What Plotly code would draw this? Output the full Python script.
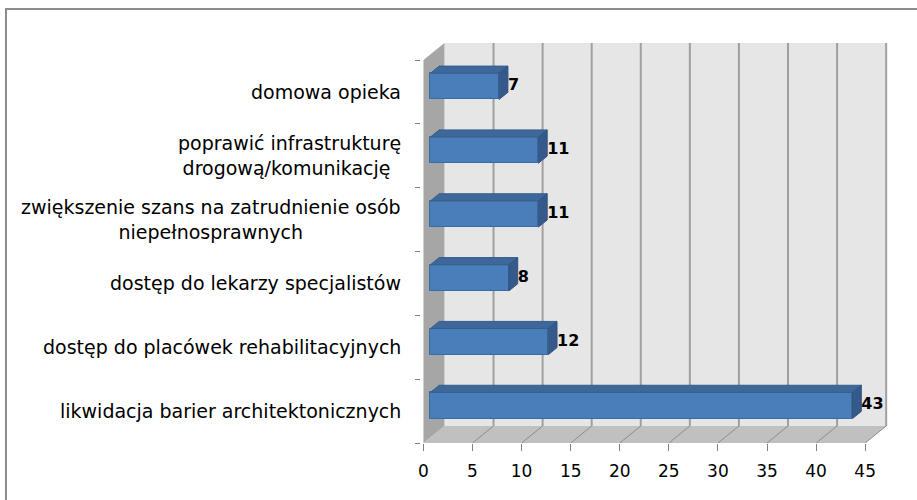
import plotly.graph_objects as go

# ---- data (bottom to top) ----
categories = [
    "likwidacja barier architektonicznych",
    "dostęp do placówek rehabilitacyjnych",
    "dostęp do lekarzy specjalistów",
    "zwiększenie szans na zatrudnienie osób<br>niepełnosprawnych",
    "poprawić infrastrukturę<br>drogową/komunikację ",
    "domowa opieka",
]
values = [43, 12, 8, 11, 11, 7]
x_ticks = [0, 5, 10, 15, 20, 25, 30, 35, 40, 45]

# ---- geometry (pixels -> axis units) ----
W, H = 917, 500
PX_X = 9.816          # px per x unit
PX_Y = 63.83          # px per category
DEPTH_PX_X, DEPTH_PX_Y = 21, 17
DX = DEPTH_PX_X / PX_X
DY = DEPTH_PX_Y / PX_Y
F0, F1 = 0.33, 0.75   # bar front/back depth fractions
BAR_W = 0.41
XMAX = 45
FONT = "DejaVu Sans"

left_px, top_px, bottom_px, right_px = 421, 41, 443, 29
x_lo = -0.25
x_hi = x_lo + (W - right_px - left_px) / PX_X
y_lo = -0.5
y_hi = y_lo + (bottom_px - top_px) / PX_Y
n = len(categories)

fig = go.Figure()
shapes = []

def poly(pts):
    return "M " + " L ".join(f"{x},{y}" for x, y in pts) + " Z"

# back wall
shapes.append(dict(type="path", xref="x", yref="y", layer="below",
                   path=poly([(DX, y_lo + DY), (XMAX + DX, y_lo + DY),
                              (XMAX + DX, n - 0.5 + DY), (DX, n - 0.5 + DY)]),
                   fillcolor="#e6e6e6", line=dict(width=0)))
# floor
shapes.append(dict(type="path", xref="x", yref="y", layer="below",
                   path=poly([(0, y_lo), (XMAX, y_lo), (XMAX + DX, y_lo + DY), (DX, y_lo + DY)]),
                   fillcolor="#c0c0c0", line=dict(width=0)))
# left wall
shapes.append(dict(type="path", xref="x", yref="y", layer="below",
                   path=poly([(0, y_lo), (0, n - 0.5), (DX, n - 0.5 + DY), (DX, y_lo + DY)]),
                   fillcolor="#a6a6a6", line=dict(width=0)))
# gridlines on back wall and floor
for t in x_ticks[1:]:
    shapes.append(dict(type="line", xref="x", yref="y", layer="below",
                       x0=t + DX, x1=t + DX, y0=y_lo + DY, y1=n - 0.5 + DY,
                       line=dict(color="#a0a0a0", width=2)))
    shapes.append(dict(type="line", xref="x", yref="y", layer="below",
                       x0=t, x1=t + DX, y0=y_lo, y1=y_lo + DY,
                       line=dict(color="#8c8c8c", width=1)))

# outer chart border
pw = W - right_px - left_px
ph = bottom_px - top_px
shapes.append(dict(type="rect", xref="paper", yref="paper", layer="below",
                   x0=(6 - left_px) / pw, x1=1.2,
                   y0=-0.3, y1=1 + (top_px - 9) / ph,
                   line=dict(color="#8c8c8c", width=2), fillcolor="rgba(0,0,0,0)"))

# bar front faces
yc = [i + F0 * DY for i in range(n)]
fig.add_trace(go.Bar(
    x=values, y=yc, base=[F0 * DX] * n, orientation="h", width=BAR_W,
    marker=dict(color="#4a7ebb", line=dict(color="#3c6aa3", width=1)),
    hoverinfo="skip", showlegend=False,
))

# top and side faces
d = (F1 - F0)
for i, v in enumerate(values):
    x0 = F0 * DX
    x1 = v + F0 * DX
    yt = yc[i] + BAR_W / 2
    yb = yc[i] - BAR_W / 2
    top = [(x0, yt), (x1, yt), (x1 + d * DX, yt + d * DY), (x0 + d * DX, yt + d * DY), (x0, yt)]
    side = [(x1, yb), (x1 + d * DX, yb + d * DY), (x1 + d * DX, yt + d * DY), (x1, yt), (x1, yb)]
    fig.add_trace(go.Scatter(x=[p[0] for p in top], y=[p[1] for p in top], fill="toself",
                             fillcolor="#3d6899", mode="lines", line=dict(color="#365d8c", width=1),
                             hoverinfo="skip", showlegend=False))
    fig.add_trace(go.Scatter(x=[p[0] for p in side], y=[p[1] for p in side], fill="toself",
                             fillcolor="#34598a", mode="lines", line=dict(color="#2f5380", width=1),
                             hoverinfo="skip", showlegend=False))

# data labels
fig.add_trace(go.Scatter(
    x=[v + F1 * DX for v in values], y=yc, mode="text",
    text=[str(v) for v in values], textposition="middle right",
    textfont=dict(family=FONT, size=16, color="#000000", weight="bold"),
    hoverinfo="skip", showlegend=False,
))

# category labels
annotations = []
for i, c in enumerate(categories):
    annotations.append(dict(xref="paper", yref="y", x=0, y=i, xanchor="right", yanchor="middle",
                            xshift=-18, text=c, showarrow=False, align="center",
                            font=dict(family=FONT, size=19, color="#000000")))

fig.update_layout(
    width=W, height=H, autosize=False,
    margin=dict(l=left_px, r=right_px, t=top_px, b=H - bottom_px, pad=0),
    paper_bgcolor="white", plot_bgcolor="rgba(0,0,0,0)",
    shapes=shapes, annotations=annotations, bargap=0,
    xaxis=dict(range=[x_lo, x_hi], tickvals=x_ticks, ticktext=[str(t) for t in x_ticks],
               ticks="outside", ticklen=7, tickcolor="#808080", showgrid=False,
               zeroline=False, showline=False, ticklabelstandoff=6,
               tickfont=dict(family=FONT, size=17, color="#000000")),
    yaxis=dict(range=[y_lo, y_hi], tickvals=[k - 0.5 for k in range(n + 1)],
               ticks="outside", ticklen=5, tickcolor="#808080", showticklabels=False,
               showgrid=False, zeroline=False, showline=False),
)

fig.write_html("out.html", config={"displayModeBar": False},
               post_script="document.body.style.margin='0';document.body.style.overflow='hidden';")
